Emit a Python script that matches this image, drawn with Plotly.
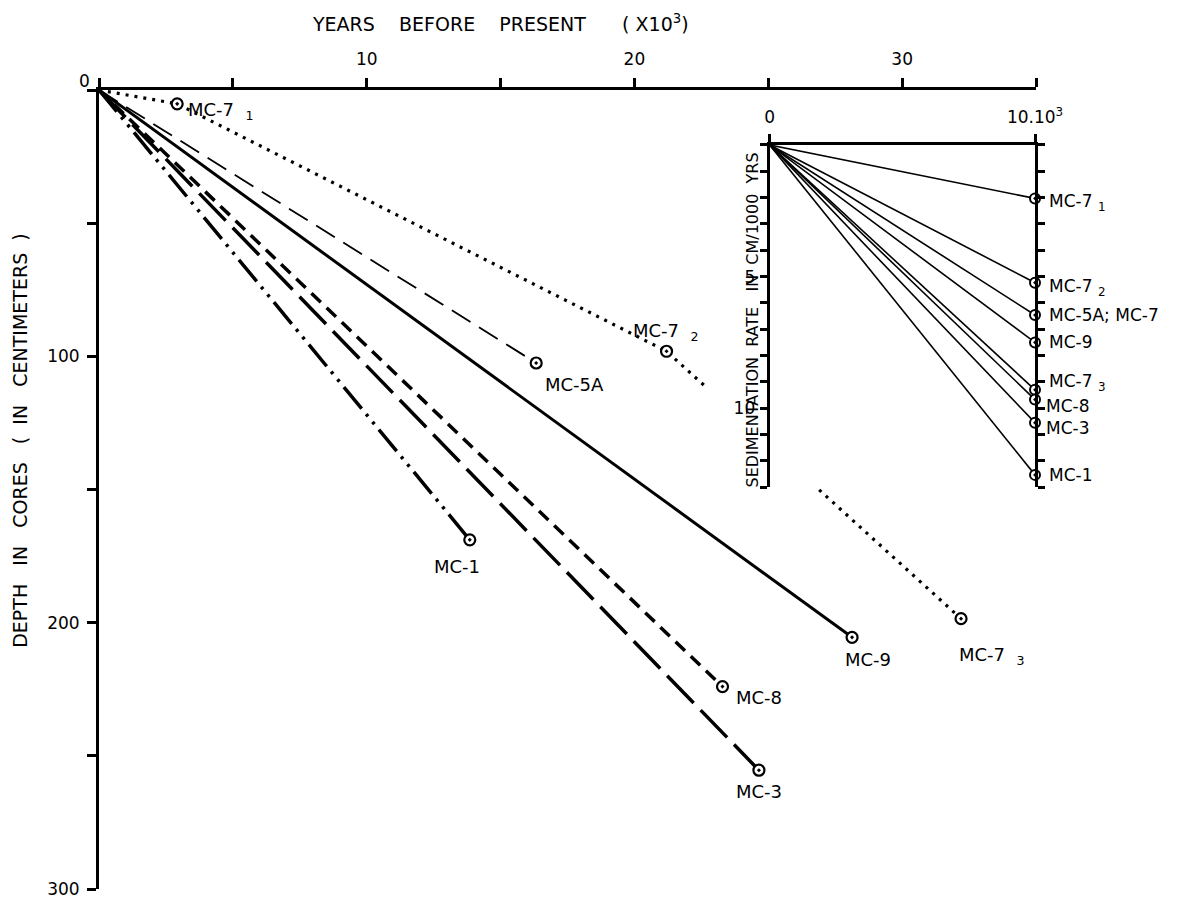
import plotly.graph_objects as go

# ---------------- data ----------------
# main chart: age (x1000 yr BP) and depth (cm) of dated core levels
cores = ["MC-1", "MC-3", "MC-8", "MC-9", "MC-5A"]
core_age = [13.85, 24.65, 23.29, 28.13, 16.33]
core_depth = [168.9, 255.4, 224.0, 205.5, 102.5]

mc7_names = ["MC-7<sub>1</sub>", "MC-7<sub>2</sub>", "MC-7<sub>3</sub>"]
mc7_age = [2.92, 21.2, 32.2]
mc7_depth = [5.2, 98.1, 198.5]

# inset: sedimentation rates (cm / 1000 yr)
rate_labels = ["MC-7<sub>1</sub>", "MC-7<sub>2</sub>", "MC-5A; MC-7", "MC-9",
               "MC-7<sub>3</sub>", "MC-8", "MC-3", "MC-1"]
rate_values = [2.03, 5.23, 6.46, 7.5, 9.3, 9.67, 10.55, 12.53]

x_ticks = [0, 5, 10, 15, 20, 25, 30, 35]
x_ticktext = ["", "", "10", "", "20", "", "30", ""]
y_ticks = [0, 50, 100, 150, 200, 250, 300]
y_ticktext = ["", "", "100", "", "200", "", "300"]
inset_y_ticks = list(range(0, 14))
inset_y_ticktext = ["" if v not in (5, 10) else str(v) for v in inset_y_ticks]

# ---------------- layout geometry ----------------
# targets are given in screen pixels; the page body adds an 8 px offset
OFF = 8
LW = 3                           # axis line width; lines sit outside plot edge
HALF = LW / 2
W, H = 1203, 899
X0S, X1S = 97, 1036              # screen x of the y-axis line and of x=35
Y0S, Y1S = 88, 889               # screen y of the x-axis line and of y=300
XMAX, YMAX = 35, 300

edge_l, edge_r = X0S + HALF, X1S
edge_t, edge_b = Y0S + HALF, Y1S
L = edge_l - OFF
R = W - (edge_r - OFF)
T = edge_t - OFF
B = H - (edge_b - OFF)
PW, PH = W - L - R, H - T - B
FONT = "DejaVu Sans"


def px(xs):
    return (xs - edge_l) / PW


def py(ys):
    return (edge_b - ys) / PH


fig = go.Figure()

styles = {
    "MC-1": dict(dash="28px,7px,3px,7px,3px,7px", width=3.5),
    "MC-3": dict(dash="38px,10px", width=3.5),
    "MC-8": dict(dash="13px,8px", width=3.5),
    "MC-9": dict(dash="solid", width=3),
    "MC-5A": dict(dash="22px,10px", width=1.8),
}

for name, a, d in zip(cores, core_age, core_depth):
    st = styles[name]
    fig.add_trace(go.Scatter(x=[0, a], y=[0, d], mode="lines",
                             line=dict(color="black", width=st["width"], dash=st["dash"]),
                             showlegend=False, hoverinfo="skip"))

# MC-7 dotted line: hidden where it passes behind the inset
t_hide0, t_hide1 = 0.14, 0.405
a2, d2 = mc7_age[1], mc7_depth[1]
a3, d3 = mc7_age[2], mc7_depth[2]
seg1_x = [0, mc7_age[0], a2, a2 + t_hide0 * (a3 - a2)]
seg1_y = [0, mc7_depth[0], d2, d2 + t_hide0 * (d3 - d2)]
seg2_x = [a2 + t_hide1 * (a3 - a2), a3]
seg2_y = [d2 + t_hide1 * (d3 - d2), d3]
for sx, sy in ((seg1_x, seg1_y), (seg2_x, seg2_y)):
    fig.add_trace(go.Scatter(x=sx, y=sy, mode="lines",
                             line=dict(color="black", width=3.2, dash="3px,6px"),
                             showlegend=False, hoverinfo="skip"))

# markers main
fig.add_trace(go.Scatter(x=core_age + mc7_age, y=core_depth + mc7_depth, mode="markers",
                         marker=dict(symbol="circle-dot", size=11, color="white",
                                     line=dict(color="black", width=2.2)),
                         cliponaxis=False, showlegend=False, hoverinfo="skip"))

# inset lines
for r in rate_values:
    fig.add_trace(go.Scatter(x=[0, 10], y=[0, r], mode="lines", xaxis="x2", yaxis="y2",
                             line=dict(color="black", width=1.6),
                             showlegend=False, hoverinfo="skip"))
fig.add_trace(go.Scatter(x=[10] * len(rate_values), y=rate_values, mode="markers",
                         xaxis="x2", yaxis="y2",
                         marker=dict(symbol="circle-dot", size=10, color="white",
                                     line=dict(color="black", width=2)),
                         cliponaxis=False, showlegend=False, hoverinfo="skip"))

# ---------------- labels ----------------
lab_font = dict(family=FONT, size=18, color="black")
ann = []
# (xshift, yshift, xanchor) per main label
main_pos = {
    "MC-1": (-13, -27, "center"),
    "MC-3": (0, -21, "center"),
    "MC-8": (11, -11, "left"),
    "MC-9": (16, -22, "center"),
    "MC-5A": (7, -22, "left"),
}
for name, a, d in zip(cores, core_age, core_depth):
    xs, ys, xa = main_pos[name]
    ann.append(dict(x=a, y=d, xref="x", yref="y", text=name, showarrow=False,
                    xanchor=xa, yanchor="middle", xshift=xs, yshift=ys, font=lab_font))
mc7_pos = [(9, -7, "left"), (-36, 19, "left"), (-4, -37, "left")]
for name, a, d, (xs, ys, xa) in zip(mc7_names, mc7_age, mc7_depth, mc7_pos):
    ann.append(dict(x=a, y=d, xref="x", yref="y", text=name.replace("<sub>", "  <sub>"),
                    showarrow=False, xanchor=xa, yanchor="middle", xshift=xs, yshift=ys,
                    font=lab_font))
inset_yshift = [-4, -5, 0, 0, 7, -6, -5, 0]
inset_xshift = [12, 12, 12, 12, 12, 9, 9, 12]
for name, r, ys, xs in zip(rate_labels, rate_values, inset_yshift, inset_xshift):
    ann.append(dict(x=10, y=r, xref="x2", yref="y2", text=name.replace("<sub>", " <sub>"),
                    showarrow=False, xanchor="left", yanchor="middle", xshift=xs, yshift=ys,
                    font=dict(family=FONT, size=17, color="black")))

# titles
ann.append(dict(x=px(500), y=py(22), xref="paper", yref="paper",
                xanchor="center", yanchor="middle",
                text="YEARS    BEFORE    PRESENT      ( X10<sup>3</sup>)", showarrow=False,
                font=dict(family=FONT, size=19, color="black")))
ann.append(dict(x=px(20), y=py(440), xref="paper", yref="paper",
                xanchor="center", yanchor="middle",
                text="DEPTH   IN   CORES   (  IN   CENTIMETERS  )", showarrow=False,
                textangle=-90, font=dict(family=FONT, size=19, color="black")))
ann.append(dict(x=px(752), y=py(320), xref="paper", yref="paper",
                xanchor="center", yanchor="middle",
                text="SEDIMENTATION  RATE   IN  CM/1000  YRS", showarrow=False,
                textangle=-90, font=dict(family=FONT, size=16, color="black")))
ann.append(dict(x=px(84), y=py(80), xref="paper", yref="paper", text="0", showarrow=False,
                xanchor="center", yanchor="middle",
                font=dict(family=FONT, size=17, color="black")))

# inset geometry (screen px)
IX0S, IX1S = 768, 1035
IY0S, IY1S = 143, 487
IXMAX, IYMAX = 10, 13
ix0, ix1 = px(IX0S + HALF), px(IX1S)
iy_top, iy_bot = py(IY0S + HALF), py(IY1S)

axis_common = dict(showgrid=False, zeroline=False, showline=True, linecolor="black",
                   ticks="outside", tickcolor="black", automargin=False,
                   tickfont=dict(family=FONT, size=17, color="black"))

fig.update_layout(
    width=W, height=H, margin=dict(l=L, r=R, t=T, b=B, autoexpand=False),
    paper_bgcolor="white", plot_bgcolor="white",
    showlegend=False,
    xaxis=dict(range=[0, XMAX], side="top", tickvals=x_ticks, ticktext=x_ticktext,
               linewidth=LW, tickwidth=3, ticklen=9, ticklabelstandoff=6, **axis_common),
    yaxis=dict(range=[YMAX, 0], tickvals=y_ticks, ticktext=y_ticktext,
               linewidth=LW, tickwidth=3, ticklen=9, ticklabelstandoff=4, **axis_common),
    xaxis2=dict(domain=[ix0, ix1], anchor="y2", range=[0, IXMAX], side="top",
                tickvals=[0, 10], ticktext=["0", "10.10<sup>3</sup>"],
                linewidth=LW, tickwidth=3, ticklen=8, ticklabelstandoff=4, **axis_common),
    yaxis2=dict(domain=[iy_bot, iy_top], anchor="x2", range=[IYMAX, 0],
                tickvals=inset_y_ticks, ticktext=inset_y_ticktext, mirror="ticks",
                linewidth=LW, tickwidth=2.5, ticklen=7, ticklabelstandoff=1, **axis_common),
    annotations=ann,
)

fig.write_html("out.html")
